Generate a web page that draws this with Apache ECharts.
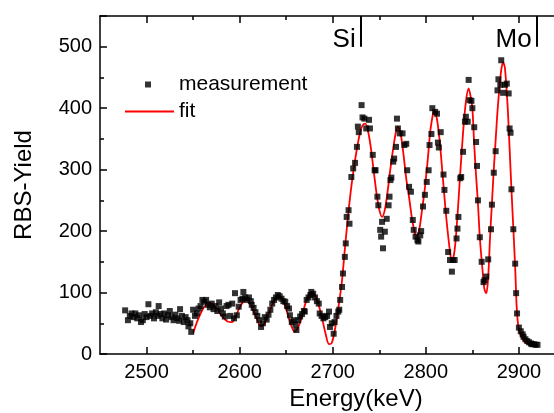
<!DOCTYPE html>
<html>
<head>
<meta charset="utf-8">
<script src="https://cdn.jsdelivr.net/npm/echarts@6/dist/echarts.min.js"></script>
<style>
  html, body { margin: 0; padding: 0; background: #fff; }
  #chart1 { width: 554px; height: 413px; }
</style>
</head>
<body>
<div id="chart1"></div>
<script>
// measured points (energy in keV, RBS yield)
const measE = [2477,2480,2482,2484,2486,2488,2490,2492,2494,2496,2498,2500,2502,2504,2506,2508,2510,2512,2513,2515,
  2517,2519,2521,2523,2525,2527,2529,2531,2533,2535,2536,2538,2540,2542,2544,2545,2547,2548,2550,2552,
  2554,2556,2558,2560,2562,2564,2566,2568,2570,2572,2574,2576,2578,2580,2582,2584,2586,2588,2590,2592,
  2594,2595,2597,2599,2601,2603,2604,2606,2608,2610,2612,2613,2615,2617,2619,2621,2623,2625,2627,2629,
  2631,2633,2635,2637,2639,2641,2643,2645,2647,2649,2651,2653,2654,2656,2658,2660,2661,2663,2665,2667,
  2669,2670,2672,2674,2676,2677,2679,2681,2683,2685,2686,2688,2690,2692,2694,2696,2697,2699,2701,2702,
  2704,2706,2707,2708,2710,2711,2713,2714,2715,2717,2718,2720,2722,2724,2726,2727,2728,2731,2732,2734,
  2736,2739,2740,2743,2745,2746,2748,2749,2751,2752,2753,2754,2756,2758,2760,2761,2762,2763,2765,2766,
  2768,2769,2770,2772,2775,2777,2779,2780,2782,2784,2786,2787,2789,2791,2792,2794,2795,2797,2799,2801,
  2803,2804,2806,2807,2810,2812,2813,2814,2816,2819,2820,2822,2824,2826,2828,2829,2831,2833,2834,2835,
  2837,2838,2840,2842,2843,2845,2846,2847,2849,2850,2852,2854,2855,2856,2858,2860,2862,2863,2865,2867,
  2870,2871,2873,2875,2877,2878,2880,2881,2883,2885,2887,2889,2890,2891,2892,2894,2896,2897,2898,2900,
  2902,2904,2905,2907,2909,2911,2913,2914,2916,2918,2920]
const measY = [71,55,62,66,60,66,58,63,52,55,65,60,81,62,66,58,68,62,78,65,
  58,66,56,63,70,60,55,64,58,54,73,62,52,60,55,45,50,36,72,62,
  66,74,78,88,85,88,80,76,82,73,78,70,84,74,66,61,78,80,62,82,
  58,99,63,77,88,90,101,92,88,92,86,80,75,68,62,55,44,50,60,56,
  64,72,82,88,92,96,94,90,86,85,78,74,63,52,55,48,39,55,61,65,
  70,69,88,92,96,101,98,92,86,82,66,62,58,60,62,69,44,50,33,52,
  62,69,72,88,109,131,158,180,223,234,212,288,302,311,337,370,361,405,385,383,
  367,381,367,324,299,299,256,242,202,191,215,172,199,220,242,256,283,287,313,318,
  337,383,367,359,359,340,342,299,272,264,218,202,191,185,183,193,200,240,259,280,
  299,340,358,400,394,391,344,336,361,292,267,233,166,153,134,153,153,188,204,223,
  286,288,329,378,386,378,446,413,412,400,369,345,306,250,190,150,117,120,126,154,
  203,243,295,330,429,447,438,478,425,438,440,424,367,360,268,203,147,99,66,43,
  37,32,28,24,21,19,17,16,16,15,15]

// fitted curve
const fitE = [2550,2555,2560,2564,2568,2572,2577,2582,2587,2592,2596,2600,2604,2608,2612,2616,2620,2623,2627,2631,
  2635,2639,2643,2647,2651,2655,2659,2663,2667,2671,2675,2677,2680,2684,2688,2692,2696,2699,2703,2707,
  2710,2713,2716,2719,2722,2725,2729,2732,2735,2738,2741,2744,2747,2750,2753,2756,2759,2762,2765,2768,
  2770,2773,2776,2779,2782,2785,2788,2790,2793,2796,2799,2802,2805,2808,2809,2812,2815,2818,2821,2824,
  2827,2828,2831,2834,2837,2840,2843,2846,2848,2850,2852,2854,2856,2858,2861,2863,2865,2867,2869,2871,
  2873,2875,2877,2879,2881,2883,2885,2888,2890,2892,2894,2896,2897.5,2899,2901,2903,2906,2910,2915,2920]
const fitY = [34,55,72,80,83,80,70,60,53,52,62,76,85,88,80,66,52,45,50,65,
  80,90,93,85,68,48,36,44,62,84,98,101,98,84,62,35,16,18,45,85,
  120,170,218,260,295,325,358,372,375,362,335,298,262,235,223,235,265,302,335,362,
  370,358,325,285,255,222,198,191,203,235,270,315,365,393,397,382,345,292,238,192,
  155,150,170,225,295,360,410,432,420,400,340,290,245,190,135,105,99,125,190,245,
  300,348,395,432,462,475,465,400,335,267,205,140,80,50,34,27,20,16,14,14]

const yTicks = [0, 100, 200, 300, 400, 500]
const xMajor = [2500, 2600, 2700, 2800, 2900]
const xMinor = [2550, 2650, 2750, 2850, 2950]
const markers = [{ name: "Si", energy: 2730 }, { name: "Mo", energy: 2919 }]

const font = 'Arial, "Liberation Sans", sans-serif'
const chart = echarts.init(document.getElementById("chart1"))

let measData = measE.map((e, i) => [e, measY[i]])
let fitData = fitE.map((e, i) => [e, fitY[i]])

function xAx(pos, values, len, labels, line) {
  return {
    type: "value", position: pos, min: 2450, max: 3000,
    axisLine: { show: line, onZero: false, lineStyle: { color: "#000", width: 1.5 } },
    axisTick: { show: true, inside: true, length: len, customValues: values, lineStyle: { color: "#000", width: 1.5 } },
    axisLabel: { show: labels, customValues: values, color: "#000", fontSize: 20, fontFamily: font, margin: 8,
      formatter: v => String(v) },
    splitLine: { show: false },
    name: labels ? "Energy(keV)" : "",
    nameLocation: "middle", nameGap: 30,
    nameTextStyle: { color: "#000", fontSize: 24, fontFamily: font }
  }
}

let options = {
  backgroundColor: "#fff",
  animation: false,
  grid: { left: 100, width: 512, top: 16, height: 338, outerBoundsMode: "none", containLabel: false },
  xAxis: [
    xAx("bottom", xMajor, 7, true, true),
    xAx("bottom", xMinor, 4, false, false),
    xAx("top", xMajor, 7, false, true),
    xAx("top", xMinor, 4, false, false)
  ],
  yAxis: {
    type: "value", min: 0, max: 550, interval: 100,
    axisLine: { show: true, lineStyle: { color: "#000", width: 1.5 } },
    axisTick: { inside: true, length: 7, lineStyle: { color: "#000", width: 1.5 } },
    minorTick: { show: true, splitNumber: 2, length: 4, lineStyle: { color: "#000", width: 1.5 } },
    axisLabel: { color: "#000", fontSize: 20, fontFamily: font, margin: 8,
      formatter: v => yTicks.indexOf(v) >= 0 ? String(v) : "" },
    splitLine: { show: false },
    name: "RBS-Yield", nameLocation: "middle", nameGap: 64,
    nameTextStyle: { color: "#000", fontSize: 24, fontFamily: font }
  },
  legend: [
    {
      data: ["measurement"], left: 140, top: 69, itemWidth: 6, itemHeight: 6,
      textStyle: { color: "#000", fontSize: 21, fontFamily: font, padding: [0, 0, 0, 23] }
    },
    {
      data: ["fit"], left: 119, top: 96, itemWidth: 49, itemHeight: 14,
      itemStyle: { opacity: 0 },
      textStyle: { color: "#000", fontSize: 21, fontFamily: font }
    }
  ],
  series: [
    {
      name: "fit", type: "line", data: fitData, smooth: 0.3, symbol: "none",
      lineStyle: { color: "#ff0000", width: 1.8 }, itemStyle: { color: "#ff0000" }, z: 2,
      markLine: {
        silent: true, symbol: "none",
        lineStyle: { color: "#000", width: 2, type: "solid" },
        label: { show: false },
        data: markers.map(m => [{ coord: [m.energy, 550] }, { coord: [m.energy, 500] }])
      },
      markPoint: {
        silent: true, symbol: "circle", symbolSize: 0,
        label: { show: true, position: "left", distance: 5, color: "#000", fontSize: 26, fontFamily: font,
          formatter: p => p.name },
        data: markers.map(m => ({ name: m.name, coord: [m.energy, 512] }))
      }
    },
    {
      name: "measurement", type: "scatter", data: measData, symbol: "rect", symbolSize: 6,
      itemStyle: { color: "#000" }, z: 3
    }
  ]
}
chart.setOption(options)
</script>
</body>
</html>
